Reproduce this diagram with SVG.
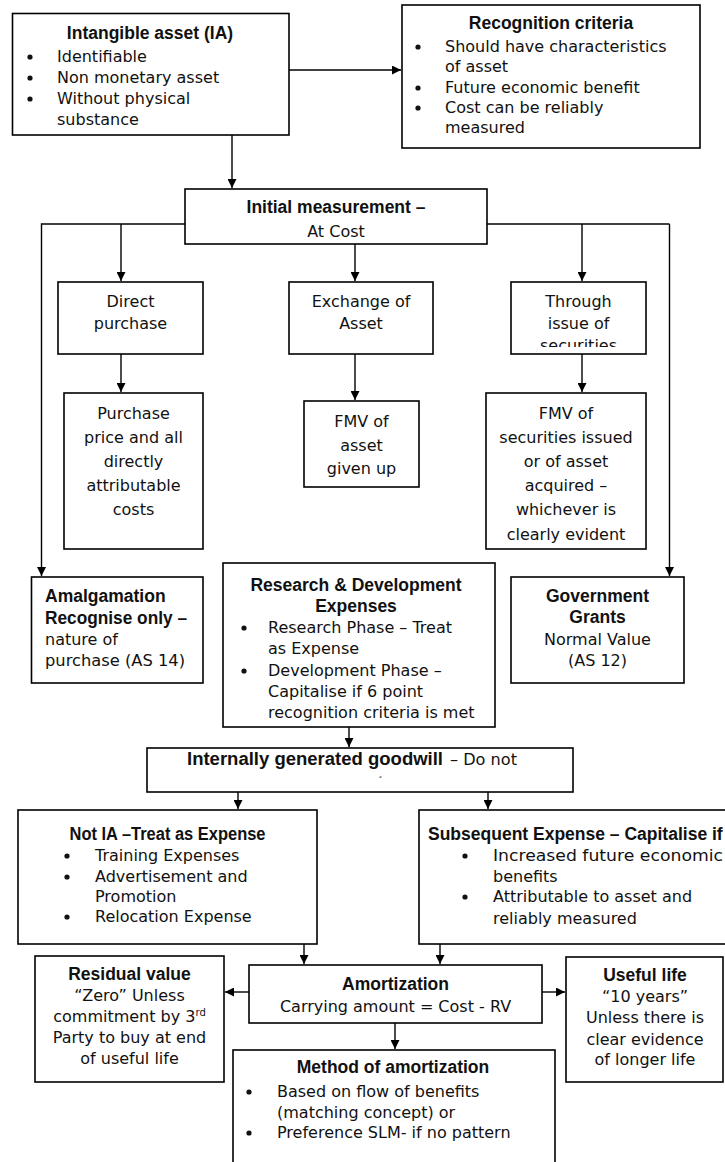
<svg xmlns="http://www.w3.org/2000/svg" width="725" height="1162" viewBox="0 0 725 1162">
  <style>
    .box { fill: #fff; stroke: #000; stroke-width: 1.6; }
    .t { font-family: "DejaVu Sans", "Liberation Sans", sans-serif; font-size: 16px; fill: #111; }
    .h { font-family: "Liberation Sans", Arial, sans-serif; font-size: 17.5px; font-weight: bold; fill: #111; }
    .c { text-anchor: middle; }
    .dot { fill: #111; }
    .ln { fill: none; stroke: #000; stroke-width: 1.4; }
    .ar { fill: none; stroke: #000; stroke-width: 1.4; marker-end: url(#arrow); }
  </style>
  <defs>
    <marker id="arrow" viewBox="0 0 10 10" refX="10" refY="5" markerWidth="9" markerHeight="9" markerUnits="userSpaceOnUse" orient="auto">
      <path d="M0,0 L10,5 L0,10 z" fill="#000"/>
    </marker>
    <clipPath id="clipThrough">
      <rect x="511" y="282" width="135" height="65"/>
    </clipPath>
  </defs>
  <rect width="725" height="1162" fill="#fff"/>

  <!-- connectors -->
  <g id="connectors">
    <path class="ar" d="M289,70 H401"/>
    <path class="ar" d="M232,135 V188"/>
    <path class="ar" d="M185,224 H41.5 V576"/>
    <path class="ar" d="M121,224 V281"/>
    <path class="ar" d="M355,244 V281"/>
    <path class="ln" d="M487,224 H669.5"/>
    <path class="ar" d="M669.5,224 V576"/>
    <path class="ar" d="M582,224 V281"/>
    <path class="ar" d="M121,354 V392"/>
    <path class="ar" d="M355,354 V400"/>
    <path class="ar" d="M582,354 V392"/>
    <path class="ar" d="M349,727 V747"/>
    <path class="ar" d="M238,792 V809"/>
    <path class="ar" d="M488,792 V809"/>
    <path class="ar" d="M304,944 V964"/>
    <path class="ar" d="M440,944 V964"/>
    <path class="ar" d="M249,992 H225"/>
    <path class="ar" d="M542,992 H565"/>
    <path class="ar" d="M395,1023 V1049"/>
  </g>

  <!-- Intangible asset -->
  <g id="node-ia">
    <rect class="box" x="12.5" y="13.5" width="276.5" height="121.5"/>
    <text class="h c" x="150" y="39">Intangible asset (IA)</text>
    <circle class="dot" cx="30" cy="57" r="2.6"/>
    <circle class="dot" cx="30" cy="78" r="2.6"/>
    <circle class="dot" cx="30" cy="99" r="2.6"/>
    <text class="t" x="57" y="62">Identifiable</text>
    <text class="t" x="57" y="83">Non monetary asset</text>
    <text class="t" x="57" y="104">Without physical</text>
    <text class="t" x="57" y="125">substance</text>
  </g>

  <!-- Recognition criteria -->
  <g id="node-recognition">
    <rect class="box" x="402" y="5" width="298" height="143"/>
    <text class="h c" x="551" y="29">Recognition criteria</text>
    <circle class="dot" cx="418" cy="47" r="2.6"/>
    <circle class="dot" cx="418" cy="88" r="2.6"/>
    <circle class="dot" cx="418" cy="108" r="2.6"/>
    <text class="t" x="445" y="52">Should have characteristics</text>
    <text class="t" x="445" y="72">of asset</text>
    <text class="t" x="445" y="93">Future economic benefit</text>
    <text class="t" x="445" y="113">Cost can be reliably</text>
    <text class="t" x="445" y="133">measured</text>
  </g>

  <!-- Initial measurement -->
  <g id="node-initial">
    <rect class="box" x="185" y="189" width="302" height="55"/>
    <text class="h c" x="336" y="213">Initial measurement –</text>
    <text class="t c" x="336" y="237">At Cost</text>
  </g>

  <g id="node-direct">
    <rect class="box" x="58" y="282" width="145" height="72"/>
    <text class="t c" x="130.5" y="307">Direct</text>
    <text class="t c" x="130.5" y="329">purchase</text>
  </g>

  <g id="node-exchange">
    <rect class="box" x="289" y="282" width="144" height="72"/>
    <text class="t c" x="361" y="307">Exchange of</text>
    <text class="t c" x="361" y="329">Asset</text>
  </g>

  <g id="node-securities">
    <rect class="box" x="511" y="282" width="135" height="72"/>
    <g clip-path="url(#clipThrough)">
      <text class="t c" x="578.5" y="307">Through</text>
      <text class="t c" x="578.5" y="329">issue of</text>
      <text class="t c" x="578.5" y="351">securities</text>
    </g>
  </g>

  <g id="node-purchase-price">
    <rect class="box" x="64" y="393" width="139" height="156"/>
    <text class="t c" x="133.5" y="419">Purchase</text>
    <text class="t c" x="133.5" y="443">price and all</text>
    <text class="t c" x="133.5" y="467">directly</text>
    <text class="t c" x="133.5" y="491">attributable</text>
    <text class="t c" x="133.5" y="515">costs</text>
  </g>

  <g id="node-fmv-asset">
    <rect class="box" x="304" y="401" width="115" height="86"/>
    <text class="t c" x="361.5" y="427">FMV of</text>
    <text class="t c" x="361.5" y="451">asset</text>
    <text class="t c" x="361.5" y="474">given up</text>
  </g>

  <g id="node-fmv-securities">
    <rect class="box" x="486" y="393" width="160" height="156"/>
    <text class="t c" x="566" y="419">FMV of</text>
    <text class="t c" x="566" y="443">securities issued</text>
    <text class="t c" x="566" y="467">or of asset</text>
    <text class="t c" x="566" y="491">acquired –</text>
    <text class="t c" x="566" y="515">whichever is</text>
    <text class="t c" x="566" y="540">clearly evident</text>
  </g>

  <g id="node-amalgamation">
    <rect class="box" x="31.5" y="577" width="171.5" height="106"/>
    <text class="h" x="45" y="602">Amalgamation</text>
    <text class="h" x="45" y="624" textLength="142" lengthAdjust="spacingAndGlyphs">Recognise only –</text>
    <text class="t" x="45" y="645">nature of</text>
    <text class="t" x="45" y="666" textLength="140" lengthAdjust="spacingAndGlyphs">purchase (AS 14)</text>
  </g>

  <g id="node-rnd">
    <rect class="box" x="223" y="563" width="272" height="164"/>
    <text class="h c" x="356" y="591">Research &amp; Development</text>
    <text class="h c" x="356" y="612">Expenses</text>
    <circle class="dot" cx="244" cy="628" r="2.6"/>
    <circle class="dot" cx="244" cy="671" r="2.6"/>
    <text class="t" x="268" y="633">Research Phase – Treat</text>
    <text class="t" x="268" y="654">as Expense</text>
    <text class="t" x="268" y="676">Development Phase –</text>
    <text class="t" x="268" y="697">Capitalise if 6 point</text>
    <text class="t" x="268" y="718">recognition criteria is met</text>
  </g>

  <g id="node-grants">
    <rect class="box" x="511" y="577" width="173" height="106"/>
    <text class="h c" x="597.5" y="602">Government</text>
    <text class="h c" x="597.5" y="623">Grants</text>
    <text class="t c" x="597.5" y="645">Normal Value</text>
    <text class="t c" x="597.5" y="666">(AS 12)</text>
  </g>

  <g id="node-goodwill">
    <rect class="box" x="147" y="748" width="426" height="44"/>
    <text class="h" x="187" y="765" textLength="256" lengthAdjust="spacingAndGlyphs">Internally generated goodwill</text>
    <text class="t" x="450" y="765" textLength="67" lengthAdjust="spacingAndGlyphs">– Do not</text>
    <rect x="379.5" y="776.5" width="2" height="1.2" fill="#444"/>
  </g>

  <g id="node-not-ia">
    <rect class="box" x="18" y="810" width="299" height="134"/>
    <text class="h c" x="167.5" y="840" textLength="196" lengthAdjust="spacingAndGlyphs">Not IA –Treat as Expense</text>
    <circle class="dot" cx="67" cy="856" r="2.6"/>
    <circle class="dot" cx="67" cy="877" r="2.6"/>
    <circle class="dot" cx="67" cy="917" r="2.6"/>
    <text class="t" x="95" y="861">Training Expenses</text>
    <text class="t" x="95" y="882">Advertisement and</text>
    <text class="t" x="95" y="902">Promotion</text>
    <text class="t" x="95" y="922">Relocation Expense</text>
  </g>

  <g id="node-subsequent">
    <rect class="box" x="419" y="810" width="312" height="134"/>
    <text class="h" x="428" y="840">Subsequent Expense – Capitalise if</text>
    <circle class="dot" cx="465" cy="856" r="2.6"/>
    <circle class="dot" cx="465" cy="897" r="2.6"/>
    <text class="t" x="493" y="861" textLength="230" lengthAdjust="spacingAndGlyphs">Increased future economic</text>
    <text class="t" x="493" y="882">benefits</text>
    <text class="t" x="493" y="902">Attributable to asset and</text>
    <text class="t" x="493" y="924">reliably measured</text>
  </g>

  <g id="node-residual">
    <rect class="box" x="35" y="956" width="189" height="126"/>
    <text class="h c" x="129.5" y="980">Residual value</text>
    <text class="t c" x="129.5" y="1001">“Zero” Unless</text>
    <text class="t c" x="129.5" y="1022">commitment by 3<tspan font-size="10" dy="-6">rd</tspan></text>
    <text class="t c" x="129.5" y="1043">Party to buy at end</text>
    <text class="t c" x="129.5" y="1064">of useful life</text>
  </g>

  <g id="node-amortization">
    <rect class="box" x="249" y="965" width="293" height="58"/>
    <text class="h c" x="395.5" y="990">Amortization</text>
    <text class="t c" x="395.5" y="1012">Carrying amount = Cost - RV</text>
  </g>

  <g id="node-useful-life">
    <rect class="box" x="566" y="957" width="157" height="125"/>
    <text class="h c" x="645" y="981">Useful life</text>
    <text class="t c" x="645" y="1002">“10 years”</text>
    <text class="t c" x="645" y="1023">Unless there is</text>
    <text class="t c" x="645" y="1045">clear evidence</text>
    <text class="t c" x="645" y="1065">of longer life</text>
  </g>

  <g id="node-method">
    <rect class="box" x="233" y="1050" width="322" height="130"/>
    <text class="h c" x="393" y="1073">Method of amortization</text>
    <circle class="dot" cx="249" cy="1092" r="2.6"/>
    <circle class="dot" cx="249" cy="1133" r="2.6"/>
    <text class="t" x="277" y="1097">Based on flow of benefits</text>
    <text class="t" x="277" y="1118">(matching concept) or</text>
    <text class="t" x="277" y="1138">Preference SLM- if no pattern</text>
  </g>
</svg>
